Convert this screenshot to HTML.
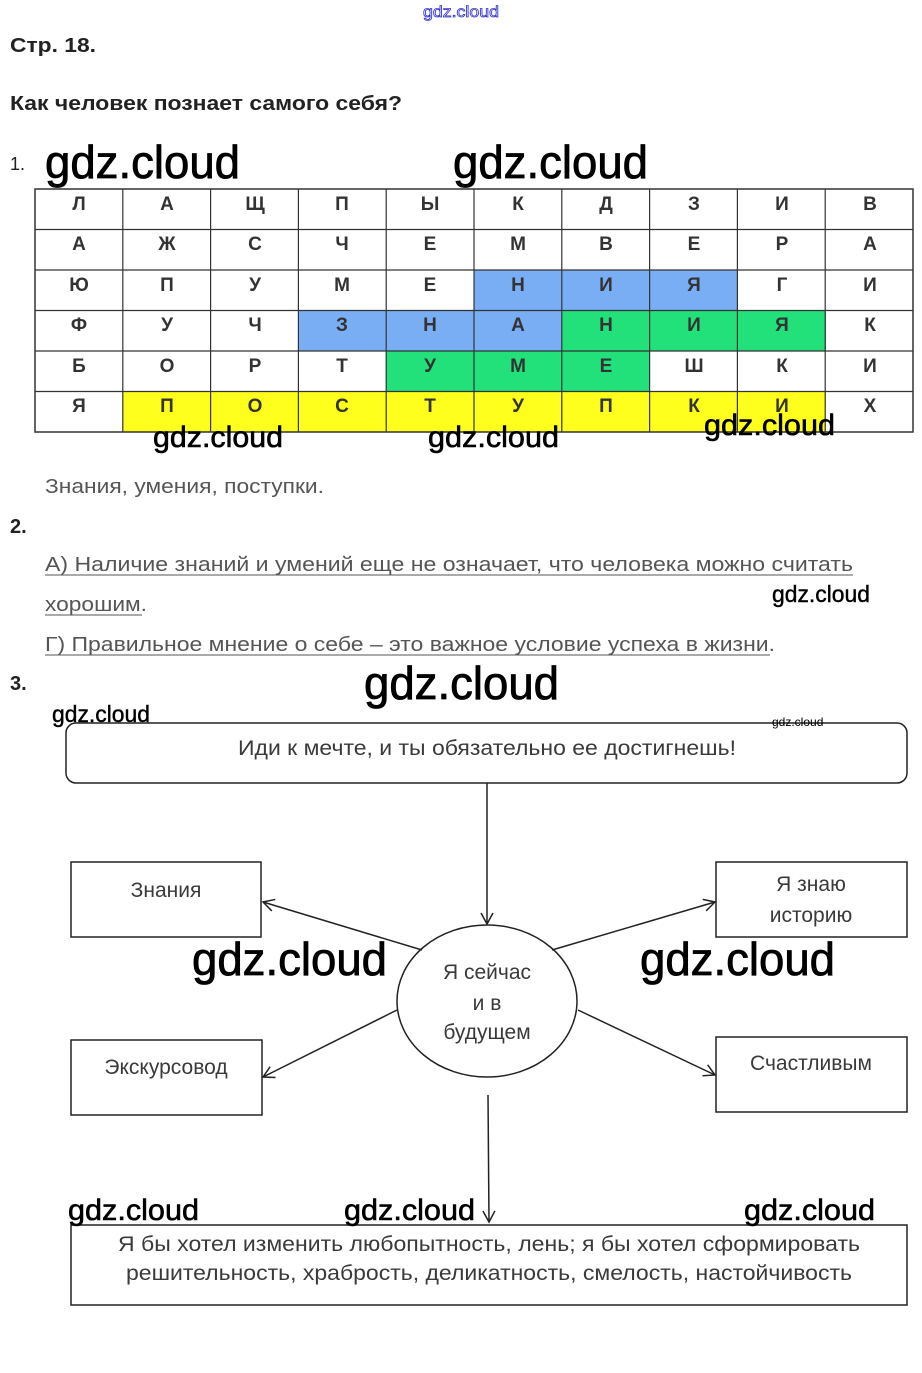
<!DOCTYPE html>
<html><head><meta charset="utf-8"><style>
html,body{margin:0;padding:0;background:#fff;}
svg{display:block;}
text{font-family:"Liberation Sans",sans-serif;}
</style></head><body>
<svg width="922" height="1373" viewBox="0 0 922 1373" xmlns="http://www.w3.org/2000/svg">
<defs>
<marker id="ar" markerWidth="14" markerHeight="14" refX="12" refY="7" orient="auto" markerUnits="userSpaceOnUse">
<path d="M1,1 L12,7 L1,13" fill="none" stroke="#222" stroke-width="1.5"/>
</marker>
</defs>
<rect width="922" height="1373" fill="#fff"/>
<text x="423" y="17" font-size="16" fill="none" stroke="#3333cc" stroke-width="0.8" textLength="76" lengthAdjust="spacingAndGlyphs">gdz.cloud</text>
<text x="10" y="52" font-size="20" font-weight="bold" fill="#222" textLength="86" lengthAdjust="spacingAndGlyphs">Стр. 18.</text>
<text x="10" y="110" font-size="20" font-weight="bold" fill="#222" textLength="392" lengthAdjust="spacingAndGlyphs">Как человек познает самого себя?</text>
<text x="10" y="170" font-size="18" fill="#222">1.</text>
<g fill="#000" stroke="#000" stroke-width="0.8">
<text x="45" y="178" font-size="46" textLength="195" lengthAdjust="spacingAndGlyphs">gdz.cloud</text>
<text x="453" y="178" font-size="46" textLength="195" lengthAdjust="spacingAndGlyphs">gdz.cloud</text>
</g>

<g>
<rect x="474" y="270" width="264" height="41" fill="#7aaef4"/>
<rect x="298" y="311" width="264" height="40" fill="#7aaef4"/>
<rect x="562" y="311" width="264" height="40" fill="#22e07a"/>
<rect x="386" y="351" width="264" height="40" fill="#22e07a"/>
<rect x="123" y="391" width="703" height="41" fill="#ffff1e"/>
</g>
<g stroke="#333" stroke-width="1.2" fill="none">
<rect x="35" y="189" width="878" height="243" stroke-width="1.5"/>
<line x1="35" y1="229.5" x2="913" y2="229.5"/>
<line x1="35" y1="270" x2="913" y2="270"/>
<line x1="35" y1="310.5" x2="913" y2="310.5"/>
<line x1="35" y1="351" x2="913" y2="351"/>
<line x1="35" y1="391.5" x2="913" y2="391.5"/>
<line x1="122.8" y1="189" x2="122.8" y2="432"/>
<line x1="210.6" y1="189" x2="210.6" y2="432"/>
<line x1="298.4" y1="189" x2="298.4" y2="432"/>
<line x1="386.2" y1="189" x2="386.2" y2="432"/>
<line x1="474" y1="189" x2="474" y2="432"/>
<line x1="561.8" y1="189" x2="561.8" y2="432"/>
<line x1="649.6" y1="189" x2="649.6" y2="432"/>
<line x1="737.4" y1="189" x2="737.4" y2="432"/>
<line x1="825.2" y1="189" x2="825.2" y2="432"/>
</g>
<g font-size="19" font-weight="bold" fill="#333" text-anchor="middle">
<text x="79" y="210">Л</text><text x="167" y="210">А</text><text x="255" y="210">Щ</text><text x="342" y="210">П</text><text x="430" y="210">Ы</text><text x="518" y="210">К</text><text x="606" y="210">Д</text><text x="694" y="210">З</text><text x="782" y="210">И</text><text x="870" y="210">В</text>
<text x="79" y="250">А</text><text x="167" y="250">Ж</text><text x="255" y="250">С</text><text x="342" y="250">Ч</text><text x="430" y="250">Е</text><text x="518" y="250">М</text><text x="606" y="250">В</text><text x="694" y="250">Е</text><text x="782" y="250">Р</text><text x="870" y="250">А</text>
<text x="79" y="291">Ю</text><text x="167" y="291">П</text><text x="255" y="291">У</text><text x="342" y="291">М</text><text x="430" y="291">Е</text><text x="518" y="291">Н</text><text x="606" y="291">И</text><text x="694" y="291">Я</text><text x="782" y="291">Г</text><text x="870" y="291">И</text>
<text x="79" y="331">Ф</text><text x="167" y="331">У</text><text x="255" y="331">Ч</text><text x="342" y="331">З</text><text x="430" y="331">Н</text><text x="518" y="331">А</text><text x="606" y="331">Н</text><text x="694" y="331">И</text><text x="782" y="331">Я</text><text x="870" y="331">К</text>
<text x="79" y="372">Б</text><text x="167" y="372">О</text><text x="255" y="372">Р</text><text x="342" y="372">Т</text><text x="430" y="372">У</text><text x="518" y="372">М</text><text x="606" y="372">Е</text><text x="694" y="372">Ш</text><text x="782" y="372">К</text><text x="870" y="372">И</text>
<text x="79" y="412">Я</text><text x="167" y="412">П</text><text x="255" y="412">О</text><text x="342" y="412">С</text><text x="430" y="412">Т</text><text x="518" y="412">У</text><text x="606" y="412">П</text><text x="694" y="412">К</text><text x="782" y="412">И</text><text x="870" y="412">Х</text>
</g>
<g font-size="30" fill="#000" stroke="#000" stroke-width="0.6">
<text x="153" y="447" textLength="130" lengthAdjust="spacingAndGlyphs">gdz.cloud</text>
<text x="428" y="447" textLength="131" lengthAdjust="spacingAndGlyphs">gdz.cloud</text>
<text x="704" y="435" textLength="131" lengthAdjust="spacingAndGlyphs">gdz.cloud</text>
</g>

<text x="45" y="493" font-size="20" fill="#555" textLength="279" lengthAdjust="spacingAndGlyphs">Знания, умения, поступки.</text>
<text x="10" y="533" font-size="20" font-weight="bold" fill="#222">2.</text>
<g font-size="20" fill="#555">
<text x="45" y="571" textLength="808" lengthAdjust="spacingAndGlyphs">А) Наличие знаний и умений еще не означает, что человека можно считать</text>
<text x="45" y="611" textLength="102" lengthAdjust="spacingAndGlyphs">хорошим.</text>
<text x="45" y="651" textLength="730" lengthAdjust="spacingAndGlyphs">Г) Правильное мнение о себе – это важное условие успеха в жизни.</text>
</g>
<g stroke="#555" stroke-width="1">
<line x1="45" y1="575" x2="853" y2="575"/>
<line x1="45" y1="615" x2="142" y2="615"/>
<line x1="45" y1="655" x2="770" y2="655"/>
</g>
<text x="772" y="602" font-size="23" fill="#000" stroke="#000" stroke-width="0.4" textLength="98" lengthAdjust="spacingAndGlyphs">gdz.cloud</text>
<text x="10" y="690" font-size="20" font-weight="bold" fill="#222">3.</text>
<text x="364" y="699" font-size="46" fill="#000" stroke="#000" stroke-width="0.8" textLength="195" lengthAdjust="spacingAndGlyphs">gdz.cloud</text>
<text x="52" y="722" font-size="23" fill="#000" stroke="#000" stroke-width="0.4" textLength="98" lengthAdjust="spacingAndGlyphs">gdz.cloud</text>

<g stroke="#222" stroke-width="1.5" fill="none">
<rect x="66" y="723" width="841" height="60" rx="10"/>
<ellipse cx="487" cy="1001" rx="90" ry="76"/>
<rect x="71" y="862" width="190" height="75"/>
<rect x="716" y="862" width="191" height="75"/>
<rect x="71" y="1040" width="191" height="75"/>
<rect x="716" y="1037" width="191" height="75"/>
<rect x="71" y="1225" width="836" height="80"/>
<line x1="487" y1="783" x2="487" y2="924" marker-end="url(#ar)"/>
<line x1="422" y1="950" x2="263" y2="902" marker-end="url(#ar)"/>
<line x1="552" y1="950" x2="715" y2="902" marker-end="url(#ar)"/>
<line x1="397" y1="1010" x2="263" y2="1077" marker-end="url(#ar)"/>
<line x1="578" y1="1010" x2="715" y2="1075" marker-end="url(#ar)"/>
<line x1="488" y1="1095" x2="489" y2="1222" marker-end="url(#ar)"/>
</g>
<text x="772" y="726" font-size="12" fill="#000">gdz.cloud</text>
<g font-size="21" fill="#3a3a3a" text-anchor="middle">
<text x="487" y="755" textLength="498" lengthAdjust="spacingAndGlyphs">Иди к мечте, и ты обязательно ее достигнешь!</text>
<text x="166" y="897">Знания</text>
<text x="811" y="891">Я знаю</text>
<text x="811" y="922">историю</text>
<text x="166" y="1074">Экскурсовод</text>
<text x="811" y="1070">Счастливым</text>
<text x="487" y="979">Я сейчас</text>
<text x="487" y="1010">и в</text>
<text x="487" y="1039">будущем</text>
<text x="489" y="1251" textLength="742" lengthAdjust="spacingAndGlyphs">Я бы хотел изменить любопытность, лень; я бы хотел сформировать</text>
<text x="489" y="1280" textLength="726" lengthAdjust="spacingAndGlyphs">решительность, храбрость, деликатность, смелость, настойчивость</text>
</g>
<g font-size="46" fill="#000" stroke="#000" stroke-width="0.8">
<text x="192" y="975" textLength="195" lengthAdjust="spacingAndGlyphs">gdz.cloud</text>
<text x="640" y="975" textLength="195" lengthAdjust="spacingAndGlyphs">gdz.cloud</text>
</g>
<g font-size="30" fill="#000" stroke="#000" stroke-width="0.6">
<text x="68" y="1220" textLength="131" lengthAdjust="spacingAndGlyphs">gdz.cloud</text>
<text x="344" y="1220" textLength="131" lengthAdjust="spacingAndGlyphs">gdz.cloud</text>
<text x="744" y="1220" textLength="131" lengthAdjust="spacingAndGlyphs">gdz.cloud</text>
</g>
</svg>
</body></html>
